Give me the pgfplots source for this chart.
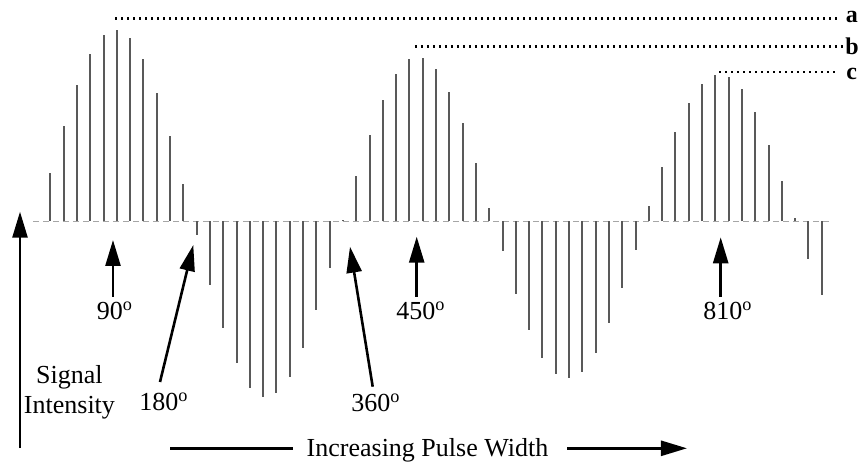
\documentclass[border=0pt]{standalone}
\usepackage{fontspec}
\setmainfont{Liberation Serif}
\usepackage{pgfplots}
\usepackage{pgfplotstable}
\pgfplotsset{compat=1.18}
\usetikzlibrary{arrows.meta}

% stick heights (signal intensity) for each pulse-width step k
\pgfplotstableread{
k h
1 48
2 95
3 136
4 167
5 186
6 191
7 183
8 162
9 128
10 85
11 37
12 -14
13 -64
14 -107
15 -141
16 -166
17 -175
18 -171
19 -155
20 -126
21 -89
22 -47
23 1
24 45
25 86
26 121
27 147
28 162
29 163
30 152
31 129
32 98
33 58
34 13
35 -30
36 -73
37 -109
38 -136
39 -152
40 -156
41 -150
42 -131
43 -102
44 -67
45 -29
46 15
47 54
48 89
49 118
50 137
51 146
52 144
53 132
54 109
55 76
56 40
57 3
58 -38
59 -74
}\sticks

\begin{document}
\begin{tikzpicture}[
  lbl/.style={font=\fontsize{13}{15}\selectfont, inner sep=0pt},
  tag/.style={font=\fontsize{12}{13}\selectfont\bfseries, inner sep=0pt},
  arr/.style={-{Triangle[length=13pt,width=7.5pt]}, line width=1.3pt},
  ref/.style={line width=1.2pt, dash pattern=on 1.2pt off 1.8pt},
]
\begin{axis}[
  x=6.65pt, y=0.5pt,
  xmin=-2.782, xmax=61.955, ymin=-239.5, ymax=221.5,
  hide axis, clip=false,
]
\path (rel axis cs:0,0) coordinate (bl) (rel axis cs:1,1) coordinate (tr);

% baseline
\addplot[gray!70, densely dashed, line width=0.5pt] coordinates {(-0.3,0) (59.6,0)};
% spectra
\addplot[ycomb, black!65, line width=1pt, mark=none] table[x=k, y=h] {\sticks};

% reference levels a, b, c
\draw[ref] (5.865,202.8) -- (60.38,202.8);
\draw[ref] (28.42,174.8) -- (60.75,174.8);
\draw[ref] (51.28,149.5) -- (60.0,149.5);
\node[tag] at (61.26,205) {a};
\node[tag] at (61.28,175) {b};
\node[tag] at (61.26,147.5) {c};

% pulse angle arrows
\draw[arr] (5.714,-75.5) -- (5.714,-18.5);
\node[lbl] at (5.85,-89.5) {90\textsuperscript{o}};
\draw[arr] (9.248,-160.5) -- (11.752,-23.5);
\node[lbl] at (9.55,-180.5) {180\textsuperscript{o}};
\draw[arr] (25.241,-165.2) -- (23.534,-25.2);
\node[lbl] at (25.49,-181.5) {360\textsuperscript{o}};
\draw[arr] (28.549,-75.2) -- (28.549,-15.2);
\node[lbl] at (28.87,-89.5) {450\textsuperscript{o}};
\draw[arr] (51.406,-75.2) -- (51.406,-15.8);
\node[lbl] at (51.95,-89.5) {810\textsuperscript{o}};

% signal intensity axis
\draw[arr] (-1.278,-226.5) -- (-1.278,9.8);
\node[lbl, align=center] at (2.44,-170.5) {Signal\\Intensity};

% pulse width axis
\draw[line width=1.3pt] (10.0,-226.8) -- (19.25,-226.8);
\draw[arr] (39.85,-226.8) -- (48.87,-226.8);
\node[lbl, anchor=base] at (29.36,-234.5) {Increasing Pulse Width};
\end{axis}
\pgfresetboundingbox
\path (bl) rectangle (tr);
\end{tikzpicture}
\end{document}
